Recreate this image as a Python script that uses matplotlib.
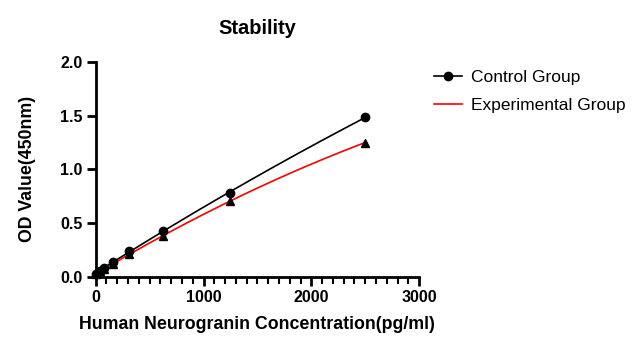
import numpy as np
import matplotlib
matplotlib.use("Agg")
import matplotlib.pyplot as plt
from matplotlib.ticker import MultipleLocator
from matplotlib.lines import Line2D

plt.rcParams['font.family'] = ['Liberation Sans', 'DejaVu Sans']

# standard curve data
conc = [0, 39.06, 78.125, 156.25, 312.5, 625, 1250, 2500]
control = [0.03, 0.058, 0.085, 0.135, 0.245, 0.43, 0.785, 1.485]
experimental = [0.028, 0.05, 0.075, 0.12, 0.21, 0.38, 0.71, 1.25]

fig = plt.figure(figsize=(6.38, 3.5), dpi=100)
ax = fig.add_axes([0.150, 0.209, 0.507, 0.614])

# quadratic fit through the points for the smooth curves
xs = np.linspace(0, max(conc), 300)
c_fit = np.polyval(np.polyfit(conc, control, 2), xs)
e_fit = np.polyval(np.polyfit(conc, experimental, 2), xs)

ax.plot(xs, c_fit, color='black', lw=1.2)
ax.plot(xs, e_fit, color='red', lw=1.2)
ax.plot(conc, experimental, '^', color='black', ms=6, clip_on=False, zorder=3)
ax.plot(conc, control, 'o', color='black', ms=6, clip_on=False, zorder=4)

ax.set_xlim(0, 3000)
ax.set_ylim(0, 2.0)
ax.xaxis.set_major_locator(MultipleLocator(1000))
ax.xaxis.set_minor_locator(MultipleLocator(100))
ax.yaxis.set_major_locator(MultipleLocator(0.5))
ax.yaxis.set_major_formatter(plt.FuncFormatter(lambda v, p: f"{v:.1f}"))

for side in ['top', 'right']:
    ax.spines[side].set_visible(False)
for side in ['left', 'bottom']:
    ax.spines[side].set_linewidth(2)
ax.tick_params(which='major', width=2, length=6.5, labelsize=11.5, pad=3)
ax.tick_params(which='minor', width=1.5, length=5)
for lbl in ax.get_xticklabels() + ax.get_yticklabels():
    lbl.set_fontweight('bold')

ax.set_title('Stability', fontsize=14.5, fontweight='bold', pad=20)
ax.set_xlabel('Human Neurogranin Concentration(pg/ml)', fontsize=12.8,
              fontweight='bold', labelpad=8)
ax.set_ylabel('OD Value(450nm)', fontsize=12.8, fontweight='bold', labelpad=17)

handles = [Line2D([], [], color='black', marker='o', ms=6, lw=1.2),
           Line2D([], [], color='red', lw=1.2)]
fig.legend(handles, ['Control Group', 'Experimental Group'],
           loc='upper left', bbox_to_anchor=(0.656, 0.845), frameon=False,
           fontsize=12.5, handlelength=1.6, handletextpad=0.5, labelspacing=0.75)

fig.savefig('out.png', dpi=100)
